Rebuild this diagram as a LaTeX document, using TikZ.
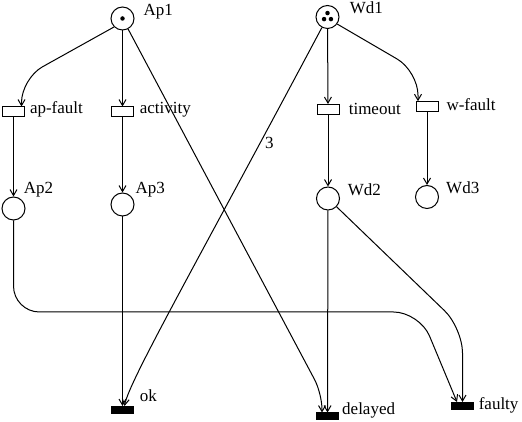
\documentclass[tikz,border=0pt]{standalone}
\usepackage{fontspec}
\setmainfont{Liberation Serif}
\usetikzlibrary{arrows.meta}
\usetikzlibrary{petri, positioning}

\begin{document}
\begin{tikzpicture}[x=1pt,y=1pt,line width=1pt,>={Straight Barb[length=6pt,width=7pt]},
    font=\fontsize{17}{20}\selectfont]
      \tikzset{every place/.style={draw=black,fill=white,minimum size=23pt,line width=1pt},
        every transition/.style={draw=black,fill=white,minimum width=22pt,minimum height=10pt,inner sep=0pt,line width=1pt},
        sink/.style={transition,fill=black,minimum height=7pt},
        every token/.style={minimum size=4.5pt},
        lbl/.style={inner sep=0pt,anchor=base west}}
      \useasboundingbox (0,0) rectangle (522,422);
      % places
      \node[place,tokens=1] (Ap1) at (122.5,403.5) {};
      \node[place,tokens=3,token distance=8pt] (Wd1) at (327.5,405) {};
      \node[place] (Ap2) at (13.5,213.5) {};
      \node[place] (Ap3) at (122.5,217.5) {};
      \node[place] (Wd2) at (328,223.5) {};
      \node[place] (Wd3) at (427,225) {};
      % transitions
      \node[transition] (apfault) at (13.5,310) {};
      \node[transition] (activity) at (122.5,310) {};
      \node[transition] (timeout) at (328,312.5) {};
      \node[transition] (wfault) at (427,315.3) {};
      \node[sink] (ok) at (122.5,12) {};
      \node[sink] (delayed) at (327.5,5.5) {};
      \node[sink] (faulty) at (462.5,16) {};
      % labels
      \node[lbl] (Ap1-l) at (143,406) {Ap1};
      \node[lbl] (Wd1-l) at (349.3,408.7) {Wd1};
      \node[lbl] (apfault-l) at (29.5,308) {ap-fault};
      \node[lbl] (activity-l) at (139.3,308) {activity};
      \node[lbl] (timeout-l) at (348.3,307) {timeout};
      \node[lbl] (wfault-l) at (446,311.3) {w-fault};
      \node[lbl] (Ap2-l) at (23.3,228.7) {Ap2};
      \node[lbl] (Ap3-l) at (135,228.7) {Ap3};
      \node[lbl] (Wd2-l) at (347.3,226) {Wd2};
      \node[lbl] (Wd3-l) at (445.7,228) {Wd3};
      \node[lbl] (ok-l) at (139.3,20.3) {ok};
      \node[lbl] (delayed-l) at (341.7,7) {delayed};
      \node[lbl] (faulty-l) at (478.3,12) {faulty};
      % arcs
      \path[->] (Ap1) edge (activity)
                (activity) edge (Ap3)
                (Ap3) edge (ok)
                (apfault) edge (Ap2)
                (Wd1) edge (timeout)
                (timeout) edge (Wd2)
                (wfault) edge (Wd3)
                (Wd2) edge (delayed);
      \draw[->,rounded corners=24pt] (Ap1.225) -- ([shift={(8,28)}]apfault.north) -- ([xshift=8pt]apfault.north);
      \draw[->,rounded corners=24pt] (Wd1.-36) -- ([shift={(-9,30)}]wfault.north) -- ([xshift=-9pt]wfault.north);
      \draw[->,rounded corners=16pt] (Ap1) -- ([shift={(-5.5,19)}]delayed.north) -- ([xshift=-5.5pt]delayed.north);
      \path[->] (Wd1) edge[out=242,in=80,out looseness=1.58,in looseness=0.15] node[pos=0.18,right,xshift=1pt] (w3) {3} ([xshift=2pt]ok.north);
      \draw[->,rounded corners=25pt] (Wd2) -- ([yshift=74pt]faulty.north) -- (faulty.north);
      \draw[->,rounded corners=26pt] (Ap2) -- ++(0,-103.5) -- ++(406,0) -- ([xshift=-5.5pt]faulty.north);
\end{tikzpicture}
\end{document}
